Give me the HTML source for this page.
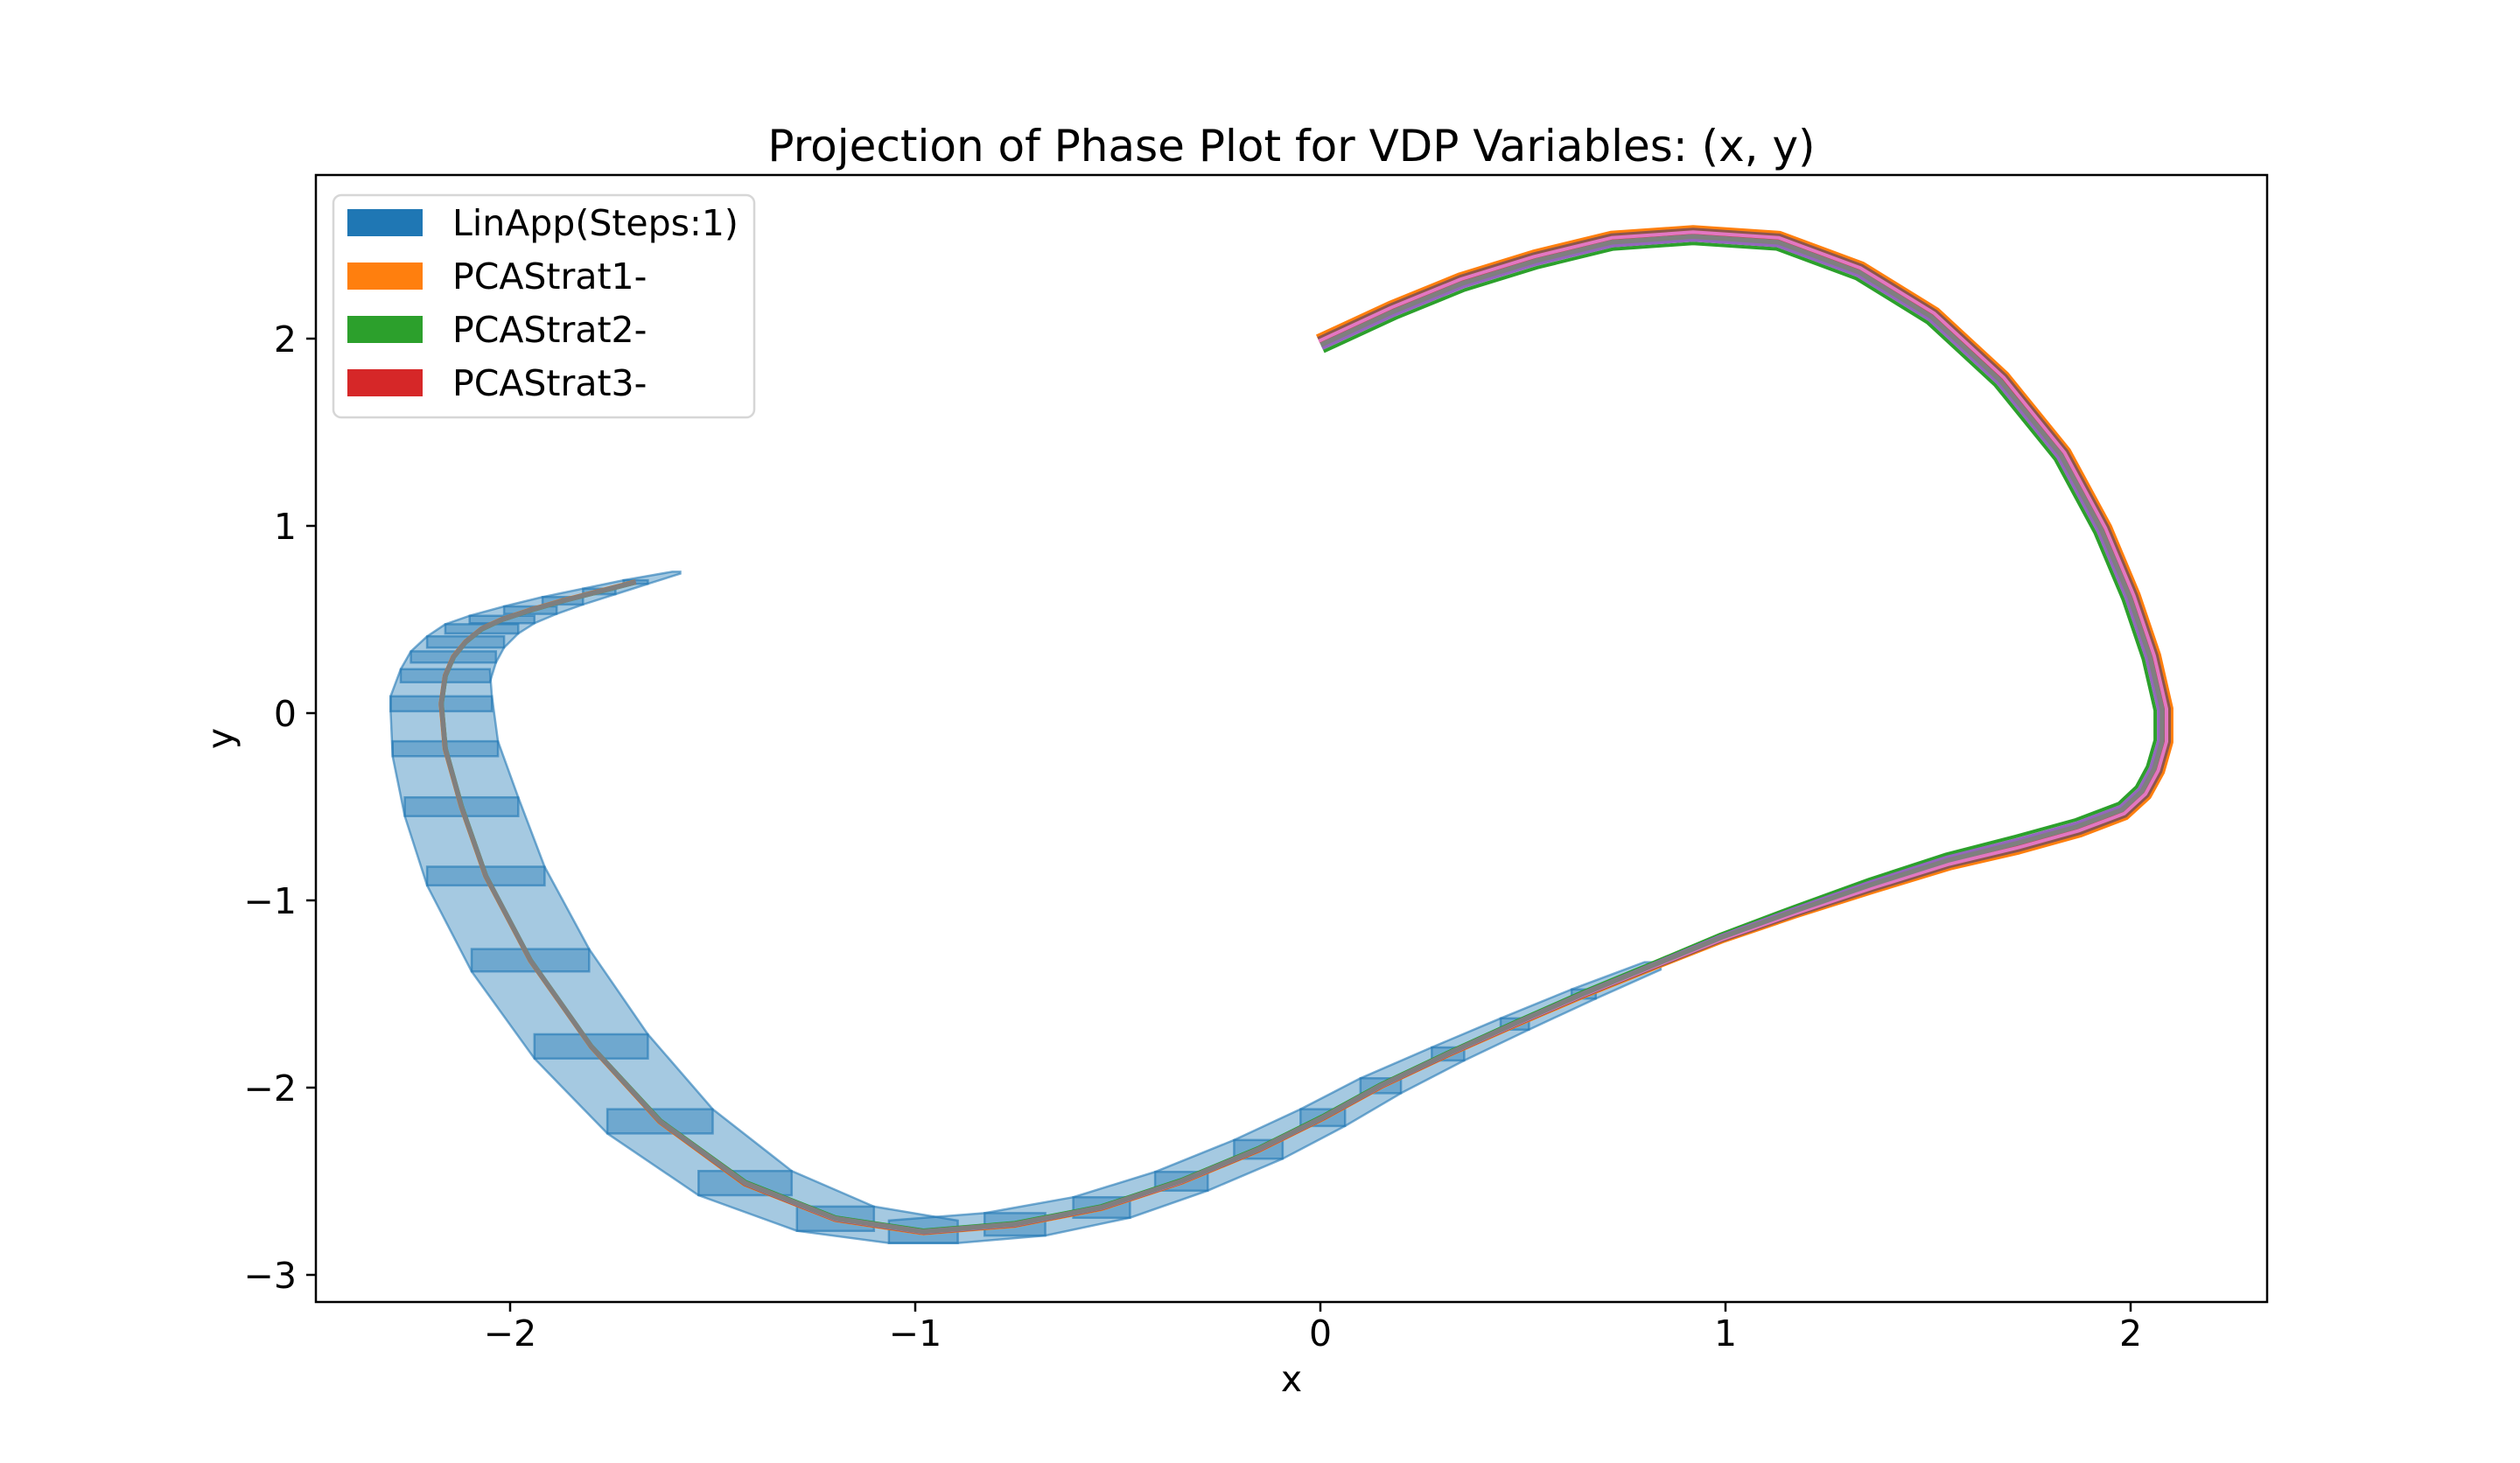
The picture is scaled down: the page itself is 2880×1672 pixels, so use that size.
<!DOCTYPE html>
<html><head><meta charset="utf-8">
<style>
html,body{margin:0;padding:0;background:#fff;}
svg{display:block;}
text{font-family:"DejaVu Sans","Liberation Sans",sans-serif;fill:#000;}
</style></head>
<body>
<svg id="chart" width="2880" height="1672" viewBox="0 0 2880 1672" xmlns="http://www.w3.org/2000/svg">
<rect x="0" y="0" width="2880" height="1672" fill="#fff"/>
<defs><clipPath id="clip"><rect x="361" y="200" width="2230" height="1288"/></clipPath></defs>
<g id="plot" clip-path="url(#clip)"></g>
<rect x="361" y="200" width="2230" height="1288" fill="none" stroke="#000" stroke-width="2.5"/>
<g id="xticks"></g>
<g id="yticks"></g>
<text x="1476" y="184" font-size="50" text-anchor="middle">Projection of Phase Plot for VDP Variables: (x, y)</text>
<text x="1476" y="1590" font-size="41" text-anchor="middle">x</text>
<text x="0" y="0" font-size="41" text-anchor="middle" transform="translate(266,844) rotate(-90)">y</text>
<g>
<rect x="381" y="223" width="481" height="254" rx="9" fill="#fff" fill-opacity="0.8" stroke="#d6d6d6" stroke-width="2.5"/>
<rect x="397" y="239" width="86" height="31" fill="#1f77b4"/>
<text x="517" y="269" font-size="41">LinApp(Steps:1)</text>
<rect x="397" y="300" width="86" height="31" fill="#ff7f0e"/>
<text x="517" y="330" font-size="41">PCAStrat1-</text>
<rect x="397" y="361" width="86" height="31" fill="#2ca02c"/>
<text x="517" y="391" font-size="41">PCAStrat2-</text>
<rect x="397" y="422" width="86" height="31" fill="#d62728"/>
<text x="517" y="452" font-size="41">PCAStrat3-</text>
</g>
</svg>
<script>
// ---- data ----
const xTicks = [-2, -1, 0, 1, 2];
const yTicks = [-3, -2, -1, 0, 1, 2];
const pathX = [0,0.18,0.35,0.53,0.72,0.92,1.13,1.33,1.51,1.68,1.83,1.93,2.0,2.05,2.08,2.08,2.06,2.03,1.98,1.87,1.72,1.55,1.36,1.17,0.99,
  0.82,0.65,0.48,0.315,0.149,0.006,-0.153,-0.343,-0.54,-0.754,-0.98,-1.197,-1.42,-1.63,-1.80,-1.95,-2.06,-2.12,-2.16,-2.17,-2.16,-2.14,-2.11,-2.07,-2.02,-1.95,-1.87,-1.78,-1.69];
const pathY = [1.97,2.15,2.3,2.42,2.52,2.55,2.52,2.36,2.12,1.78,1.38,0.98,0.62,0.3,0.02,-0.15,-0.3,-0.42,-0.52,-0.61,-0.70,-0.79,-0.92,-1.06,-1.2,
  -1.35,-1.50,-1.66,-1.82,-1.99,-2.16,-2.33,-2.50,-2.64,-2.73,-2.77,-2.70,-2.51,-2.18,-1.78,-1.32,-0.87,-0.50,-0.19,0.05,0.2,0.30,0.38,0.45,0.50,0.55,0.60,0.65,0.70];
const spread = [1,1,1,1,1,1,1,1,1,1,1,1,1,1,1,1,1,1,1,1,1,0.9,0.8,0.6,0.45,
  0.35,0.3,0.25,0.2,0.2,0.2,0.2,0.2,0.2,0.2,0.2,0.2,0.2,0.15,0.1,0.1,0.1,0.1,0.1,0.1,0.1,0.1,0.1,0.1,0.1,0.1,0.1,0.1,0.1];
const setX = [0.82,0.65,0.48,0.315,0.149,0.006,-0.153,-0.343,-0.54,-0.754,-0.98,-1.197,-1.42,-1.63,-1.80,-1.95,-2.06,-2.12,-2.16,-2.17,-2.16,-2.14,-2.11,-2.07,-2.02,-1.95,-1.87,-1.78,-1.69,-1.59];
const setY = [-1.35,-1.50,-1.66,-1.82,-1.99,-2.16,-2.33,-2.50,-2.64,-2.73,-2.77,-2.70,-2.51,-2.18,-1.78,-1.32,-0.87,-0.50,-0.19,0.05,0.2,0.30,0.38,0.45,0.50,0.55,0.60,0.65,0.70,0.75];
const setHx = [0.02,0.03,0.035,0.04,0.05,0.055,0.06,0.065,0.07,0.075,0.085,0.095,0.115,0.13,0.14,0.145,0.145,0.14,0.13,0.125,0.11,0.105,0.095,0.09,0.08,0.065,0.05,0.04,0.03,0.01];
const setHy = [0.02,0.025,0.03,0.035,0.04,0.045,0.05,0.05,0.055,0.06,0.06,0.065,0.065,0.065,0.065,0.06,0.05,0.05,0.04,0.04,0.035,0.03,0.03,0.025,0.02,0.02,0.02,0.015,0.01,0.005];
const seriesNames = ['linapp','pcastrat1','pcastrat2','pcastrat3','series-purple','series-brown','series-pink','series-gray'];
const seriesColors = ['#1f77b4','#ff7f0e','#2ca02c','#d62728','#9467bd','#8c564b','#e377c2','#7f7f7f'];
const seriesOffset = [-3,10,-9,3,-5,7,4,-1];

// ---- scales ----
const X0 = 1509, XS = 463, Y0 = 815, YS = 214;
const sx = v => X0 + v * XS;
const sy = v => Y0 - v * YS;
const NS = 'http://www.w3.org/2000/svg';
const plot = document.getElementById('plot');

function hull(pts){
  pts = pts.slice().sort((a,b)=>a[0]-b[0]||a[1]-b[1]);
  const cr=(o,a,b)=>(a[0]-o[0])*(b[1]-o[1])-(a[1]-o[1])*(b[0]-o[0]);
  const lo=[],up=[];
  for(const p of pts){while(lo.length>=2&&cr(lo[lo.length-2],lo[lo.length-1],p)<=0)lo.pop();lo.push(p);}
  for(let i=pts.length-1;i>=0;i--){const p=pts[i];while(up.length>=2&&cr(up[up.length-2],up[up.length-1],p)<=0)up.pop();up.push(p);}
  up.pop();lo.pop();return lo.concat(up);
}

// reach-set polygons
for(let i=0;i<setX.length-1;i++){
  const pts=[];
  for(const j of [i,i+1]){
    for(const a of [-1,1]) for(const b of [-1,1]) pts.push([sx(setX[j]+a*setHx[j]), sy(setY[j]+b*setHy[j])]);
  }
  const h=hull(pts);
  const pg=document.createElementNS(NS,'polygon');
  pg.setAttribute('points',h.map(p=>p[0].toFixed(1)+','+p[1].toFixed(1)).join(' '));
  pg.setAttribute('fill','#1f77b4');
  pg.setAttribute('fill-opacity','0.4');
  pg.setAttribute('stroke','#1f77b4');
  pg.setAttribute('stroke-opacity','0.6');
  pg.setAttribute('stroke-width','2.5');
  
  
  plot.appendChild(pg);
}

// trajectory lines
const P = pathX.map((x,i)=>[sx(x),sy(pathY[i])]);
const normals = P.map((p,i)=>{
  const a=P[Math.max(0,i-1)], b=P[Math.min(P.length-1,i+1)];
  const dx=b[0]-a[0], dy=b[1]-a[1], L=Math.hypot(dx,dy)||1;
  return [dy/L,-dx/L];
});
seriesColors.forEach((c,k)=>{
  const d=P.map((p,i)=>{
    const o=seriesOffset[k]*spread[i];
    return (i?'L':'M')+(p[0]+normals[i][0]*o).toFixed(1)+','+(p[1]+normals[i][1]*o).toFixed(1);
  }).join(' ');
  const pl=document.createElementNS(NS,'path');
  pl.setAttribute('d',d);
  pl.setAttribute('fill','none');
  pl.setAttribute('stroke',c);
  pl.setAttribute('stroke-width',k===7?'5.5':'4');
  pl.setAttribute('stroke-linejoin','round');
  
  
  plot.appendChild(pl);
});

// ticks
const xg=document.getElementById('xticks');
xTicks.forEach(v=>{
  const l=document.createElementNS(NS,'line');
  l.setAttribute('x1',sx(v));l.setAttribute('x2',sx(v));l.setAttribute('y1',1488);l.setAttribute('y2',1499);
  l.setAttribute('stroke','#000');l.setAttribute('stroke-width','2.5');
  
  
  xg.appendChild(l);
  const t=document.createElementNS(NS,'text');
  t.setAttribute('x',sx(v));t.setAttribute('y',1538);t.setAttribute('font-size','41');t.setAttribute('text-anchor','middle');
  t.textContent=(v<0?'\u2212':'')+Math.abs(v);
  
  
  xg.appendChild(t);
});
const yg=document.getElementById('yticks');
yTicks.forEach(v=>{
  const l=document.createElementNS(NS,'line');
  l.setAttribute('x1',350);l.setAttribute('x2',361);l.setAttribute('y1',sy(v));l.setAttribute('y2',sy(v));
  l.setAttribute('stroke','#000');l.setAttribute('stroke-width','2.5');
  
  
  yg.appendChild(l);
  const t=document.createElementNS(NS,'text');
  t.setAttribute('x',339);t.setAttribute('y',sy(v)+15);t.setAttribute('font-size','41');t.setAttribute('text-anchor','end');
  t.textContent=(v<0?'\u2212':'')+Math.abs(v);
  
  
  yg.appendChild(t);
});
</script>
</body></html>
